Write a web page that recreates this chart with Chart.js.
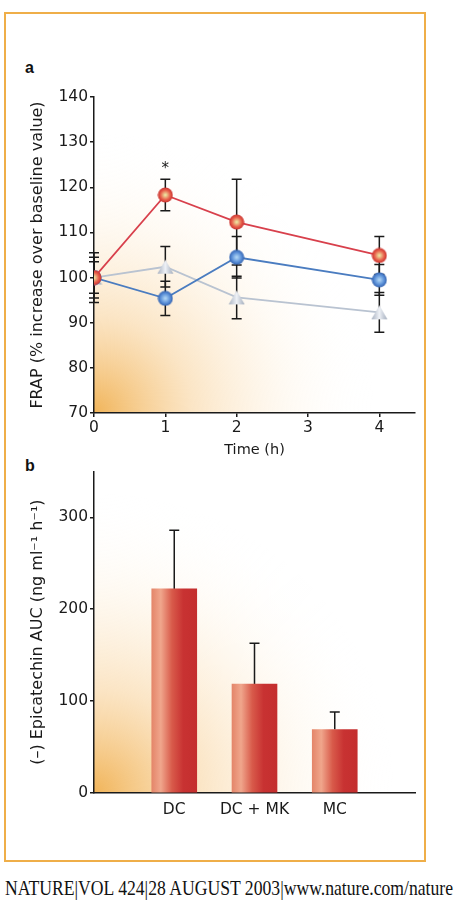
<!DOCTYPE html>
<html>
<head>
<meta charset="utf-8">
<script src="https://cdn.jsdelivr.net/npm/chart.js@4/dist/chart.umd.min.js"></script>
<style>
    body { margin: 0; width: 455px; height: 918px; background: #fff; position: relative; overflow: hidden; font-family: "DejaVu Sans", sans-serif; }
    #frame { position: absolute; left: 4px; top: 12px; width: 418px; height: 846px; border: 2px solid #efae48; }
    .panel { position: absolute; left: 10px; width: 415px; }
    #wrapA { top: 85px; height: 385px; }
    #wrapB { top: 460px; height: 400px; }
    .tag { position: absolute; font: bold 16px "Liberation Sans", Arial, sans-serif; color: #111; }
    #footer { position: absolute; left: 5px; top: 876px; width: max-content; font: 21px "Liberation Serif", "DejaVu Serif", serif; color: #111; white-space: nowrap; transform-origin: left top; }
</style>
</head>
<body>
<div id="frame"></div>
<div class="tag" style="left:25px; top:59px;">a</div>
<div class="tag" style="left:25px; top:457px;">b</div>
<div class="panel" id="wrapA"><canvas id="chartA"></canvas></div>
<div class="panel" id="wrapB"><canvas id="chartB"></canvas></div>
<div id="footer">NATURE|VOL 424|28 AUGUST 2003|www.nature.com/nature</div>

<script>
// panel a: FRAP over time
const timeH = [0, 1, 2, 4];
const timeTicks = [0, 1, 2, 3, 4];
const frapTicks = [70, 80, 90, 100, 110, 120, 130, 140];
const redFrap = [100, 118.3, 112.3, 104.9];
const redErr = [4.5, 3.5, 9.5, 4.2];
const blueFrap = [100, 95.4, 104.5, 99.5];
const blueErr = [3.5, 3.8, 4.6, 3.4];
const greyFrap = [100, 102.4, 95.6, 92.3];
const greyErr = [5.5, 4.5, 4.7, 4.4];
const sigTimes = [1];

// panel b: epicatechin AUC
const groups = ['DC', 'DC + MK', 'MC'];
const aucValues = [222, 118.5, 69];
const aucErr = [64, 44.5, 19];
const aucTicks = [0, 100, 200, 300];

const ink = '#1a1a1a';
const tickFont = { family: 'DejaVu Sans', size: 15.5 };
const titleFont = { family: 'DejaVu Sans', size: 16 };

function ballImage(light, mid, dark) {
    const c = document.createElement('canvas');
    c.width = c.height = 16;
    const x = c.getContext('2d');
    const g = x.createRadialGradient(8, 8, 0, 8, 8, 8);
    g.addColorStop(0, light);
    g.addColorStop(0.6, mid);
    g.addColorStop(1, dark);
    x.fillStyle = g;
    x.beginPath();
    x.arc(8, 8, 7.5, 0, Math.PI * 2);
    x.fill();
    return c;
}

function triangleImage() {
    const c = document.createElement('canvas');
    c.width = 17; c.height = 16;
    const x = c.getContext('2d');
    const g = x.createLinearGradient(0, 0, 17, 0);
    g.addColorStop(0, '#a2acbd');
    g.addColorStop(0.5, '#eef1f6');
    g.addColorStop(1, '#9ca7b8');
    x.fillStyle = g;
    x.beginPath();
    x.moveTo(8.5, 1);
    x.lineTo(16.5, 15);
    x.lineTo(0.5, 15);
    x.closePath();
    x.fill();
    return c;
}

const redBall = ballImage('#eef2a8', '#e8604c', '#c42a2a');
const blueBall = ballImage('#b8dcf8', '#5b90d8', '#2c5aa8');
const greyTri = triangleImage();

const bgGlow = {
    id: 'bgGlow',
    beforeDraw(chart) {
        const { ctx, chartArea: a } = chart;
        const r = chart.options.glowRadius;
        const g = ctx.createRadialGradient(a.left, a.bottom, 0, a.left, a.bottom, r);
        g.addColorStop(0, 'rgba(240,176,80,0.95)');
        g.addColorStop(0.35, 'rgba(248,208,150,0.55)');
        g.addColorStop(0.7, 'rgba(253,236,210,0.25)');
        g.addColorStop(1, 'rgba(255,255,255,0)');
        ctx.save();
        ctx.fillStyle = g;
        ctx.fillRect(a.left, a.top, a.width, a.height);
        ctx.restore();
    }
};

const errorBars = {
    id: 'errorBars',
    beforeDatasetsDraw(chart) {
        const { ctx } = chart;
        const ys = chart.scales.y;
        ctx.save();
        ctx.strokeStyle = ink;
        ctx.lineWidth = 1.5;
        chart.data.datasets.forEach((ds, di) => {
            const meta = chart.getDatasetMeta(di);
            meta.data.forEach((el, i) => {
                const v = ds.data[i].y;
                const e = ds.err[i];
                const top = ys.getPixelForValue(v + e);
                const bot = ds.upOnly ? ys.getPixelForValue(v) : ys.getPixelForValue(v - e);
                ctx.beginPath();
                ctx.moveTo(el.x, top);
                ctx.lineTo(el.x, bot);
                ctx.moveTo(el.x - 5, top);
                ctx.lineTo(el.x + 5, top);
                if (!ds.upOnly) {
                    ctx.moveTo(el.x - 5, bot);
                    ctx.lineTo(el.x + 5, bot);
                }
                ctx.stroke();
            });
        });
        ctx.restore();
    },
    afterDatasetsDraw(chart) {
        const marks = chart.options.sigMarks;
        if (!marks) return;
        const { ctx } = chart;
        const ds = chart.data.datasets[0];
        ctx.save();
        ctx.fillStyle = ink;
        ctx.font = '15px "DejaVu Sans"';
        ctx.textAlign = 'center';
        ctx.textBaseline = 'middle';
        marks.forEach(t => {
            const i = timeH.indexOf(t);
            const x = chart.scales.x.getPixelForValue(t);
            const y = chart.scales.y.getPixelForValue(ds.data[i].y + ds.err[i]) - 10;
            ctx.fillText('*', x, y);
        });
        ctx.restore();
    }
};

function toPoints(ys) {
    return timeH.map((t, i) => ({ x: t, y: ys[i] }));
}

function axisStyle(extra) {
    return Object.assign({
        grid: { drawOnChartArea: false, drawTicks: true, tickLength: 4, color: ink, lineWidth: 1.5 },
        border: { color: ink, width: 1.5 },
        ticks: { color: ink, font: tickFont, padding: 2, maxRotation: 0 }
    }, extra);
}

new Chart(document.getElementById('chartA'), {
    type: 'line',
    data: {
        datasets: [
            { data: toPoints(redFrap), err: redErr, borderColor: '#d8404c', borderWidth: 1.8, pointStyle: redBall },
            { data: toPoints(blueFrap), err: blueErr, borderColor: '#4a7cc0', borderWidth: 1.8, pointStyle: blueBall },
            { data: toPoints(greyFrap), err: greyErr, borderColor: '#b9c3d1', borderWidth: 1.8, pointStyle: greyTri }
        ]
    },
    options: {
        responsive: true,
        maintainAspectRatio: false,
        animation: false,
        glowRadius: 280,
        sigMarks: sigTimes,
        layout: { padding: { left: 15, top: 12, right: 10, bottom: 0 } },
        plugins: { legend: { display: false }, tooltip: { enabled: false } },
        scales: {
            x: axisStyle({
                type: 'linear', min: 0, max: 4.5,
                afterBuildTicks: s => { s.ticks = timeTicks.map(v => ({ value: v })); },
                afterFit: s => { s.height = 57; },
                title: { display: true, text: 'Time (h)', color: ink, font: { family: 'DejaVu Sans', size: 14.5 }, padding: { top: 0, bottom: 11 } }
            }),
            y: axisStyle({
                min: 70, max: 140,
                afterBuildTicks: s => { s.ticks = frapTicks.map(v => ({ value: v })); },
                afterFit: s => { s.width = 69; },
                title: { display: true, text: 'FRAP (% increase over baseline value)', color: ink, font: titleFont, padding: { top: 3, bottom: 0 } }
            })
        }
    },
    plugins: [bgGlow, errorBars]
});

new Chart(document.getElementById('chartB'), {
    type: 'bar',
    data: {
        datasets: [{
            data: groups.map((g, i) => ({ x: i + 1, y: aucValues[i] })),
            err: aucErr,
            upOnly: true,
            barThickness: 45,
            borderWidth: 0,
            backgroundColor: c => {
                const xs = c.chart.scales.x;
                if (!xs || !c.parsed) return '#cc3333';
                const cx = xs.getPixelForValue(c.parsed.x);
                if (!isFinite(cx)) return '#cc3333';
                const g = c.chart.ctx.createLinearGradient(cx - 22.5, 0, cx + 22.5, 0);
                g.addColorStop(0, '#e4866a');
                g.addColorStop(0.2, '#f0a68c');
                g.addColorStop(0.45, '#d85a4a');
                g.addColorStop(0.7, '#c83232');
                g.addColorStop(1, '#c42e2e');
                return g;
            }
        }]
    },
    options: {
        responsive: true,
        maintainAspectRatio: false,
        animation: false,
        glowRadius: 300,
        layout: { padding: { left: 15, top: 10, right: 10, bottom: 0 } },
        plugins: { legend: { display: false }, tooltip: { enabled: false } },
        scales: {
            x: axisStyle({
                type: 'linear', min: 0, max: 4, offset: false,
                grid: { drawOnChartArea: false, drawTicks: false, color: ink },
                afterBuildTicks: s => { s.ticks = groups.map((g, i) => ({ value: i + 1 })); },
                ticks: { color: ink, font: tickFont, padding: 8, maxRotation: 0, callback: (v, i) => groups[i] },
                afterFit: s => { s.height = 67; }
            }),
            y: axisStyle({
                min: 0, max: 350,
                afterBuildTicks: s => { s.ticks = aucTicks.map(v => ({ value: v })); },
                afterFit: s => { s.width = 69; },
                title: { display: true, text: '(–) Epicatechin AUC (ng ml⁻¹ h⁻¹)', color: ink, font: titleFont, padding: { top: 3, bottom: 0 } }
            })
        }
    },
    plugins: [bgGlow, errorBars]
});

const foot = document.getElementById('footer');
const footWidth = foot.getBoundingClientRect().width;
foot.style.transform = 'scaleX(' + (448 / footWidth) + ')';
</script>
</body>
</html>
